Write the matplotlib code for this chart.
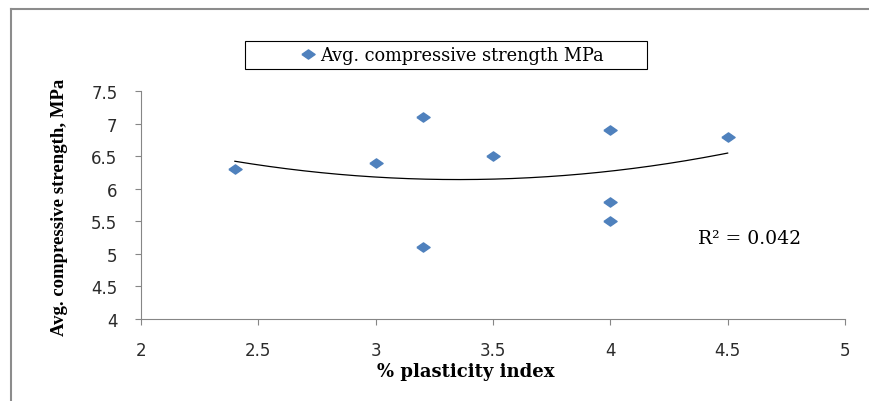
import numpy as np
import matplotlib
matplotlib.use("Agg")
import matplotlib.pyplot as plt
from matplotlib.lines import Line2D
from matplotlib.patches import Rectangle

# data
plasticity = [2.4, 3.0, 3.2, 3.2, 3.5, 4.0, 4.0, 4.0, 4.5]
strength = [6.3, 6.4, 7.1, 5.1, 6.5, 6.9, 5.8, 5.5, 6.8]
xticks = [2, 2.5, 3, 3.5, 4, 4.5, 5]
xtick_labels = ["2", "2.5", "3", "3.5", "4", "4.5", "5"]
yticks = [4, 4.5, 5, 5.5, 6, 6.5, 7, 7.5]
ytick_labels = ["4", "4.5", "5", "5.5", "6", "6.5", "7", "7.5"]
series_name = "Avg. compressive strength MPa"
r2_text = "R\u00b2 = 0.042"

W, H = 869, 402
fig = plt.figure(figsize=(W / 100, H / 100), dpi=100)
ax = fig.add_axes([141 / W, 1 - 320 / H, 704 / W, 228 / H])

# wide, flat diamond like the Excel marker
diamond = [(-1, 0), (0, 0.7), (1, 0), (0, -0.7), (-1, 0)]
ax.plot(plasticity, strength, linestyle="none", marker=diamond,
        markersize=9.5, color="#4F81BD", label=series_name)

# 2nd order polynomial trendline
coef = np.polyfit(plasticity, strength, 2)
xs = np.linspace(min(plasticity), max(plasticity), 200)
ax.plot(xs, np.polyval(coef, xs), color="black", lw=0.9)

ax.set_xlim(2, 5)
ax.set_ylim(4, 7.5)
ax.set_xticks(xticks)
ax.set_xticklabels(xtick_labels)
ax.set_yticks(yticks)
ax.set_yticklabels(ytick_labels)

axis_grey = "#868686"
for side in ["top", "right"]:
    ax.spines[side].set_visible(False)
for side in ["left", "bottom"]:
    ax.spines[side].set_color(axis_grey)
    ax.spines[side].set_linewidth(0.8)
ax.tick_params(axis="both", direction="out", length=4, width=0.8,
               color=axis_grey, labelcolor="#2b2b2b", labelsize=12,
               labelfontfamily="DejaVu Sans")
ax.tick_params(axis="y", pad=13)
ax.tick_params(axis="x", pad=12)

fig.text(60 / W, 1 - 207 / H, "Avg. compressive strength, MPa",
         family="Liberation Serif", fontweight="bold", fontsize=13.5,
         rotation=90, ha="center", va="center")
fig.text(466 / W, 1 - 372 / H, "% plasticity index", family="DejaVu Serif",
         fontweight="bold", fontsize=13, ha="center", va="center")

fig.text(698 / W, 1 - 239 / H, r2_text, family="DejaVu Serif", fontsize=13.5,
         ha="left", va="center")

# legend with a manual box
leg = fig.legend(loc="center", bbox_to_anchor=(452 / W, 1 - 56 / H),
                 frameon=False, handlelength=0.8, handletextpad=0.3,
                 prop={"family": "DejaVu Serif", "size": 12.8})
fig.add_artist(Rectangle((245 / W, 1 - 70 / H), 402 / W, 28 / H,
                         transform=fig.transFigure, fill=False,
                         edgecolor="black", lw=0.8))

# outer chart border (cropped on right and bottom)
fig.add_artist(Line2D([11 / W, 11 / W], [0, 1 - 10 / H],
                      transform=fig.transFigure, color="#8C8C8C", lw=1.5))
fig.add_artist(Line2D([11 / W, 1], [1 - 10 / H, 1 - 10 / H],
                      transform=fig.transFigure, color="#8C8C8C", lw=1.5))

fig.savefig("out.png", dpi=100)
